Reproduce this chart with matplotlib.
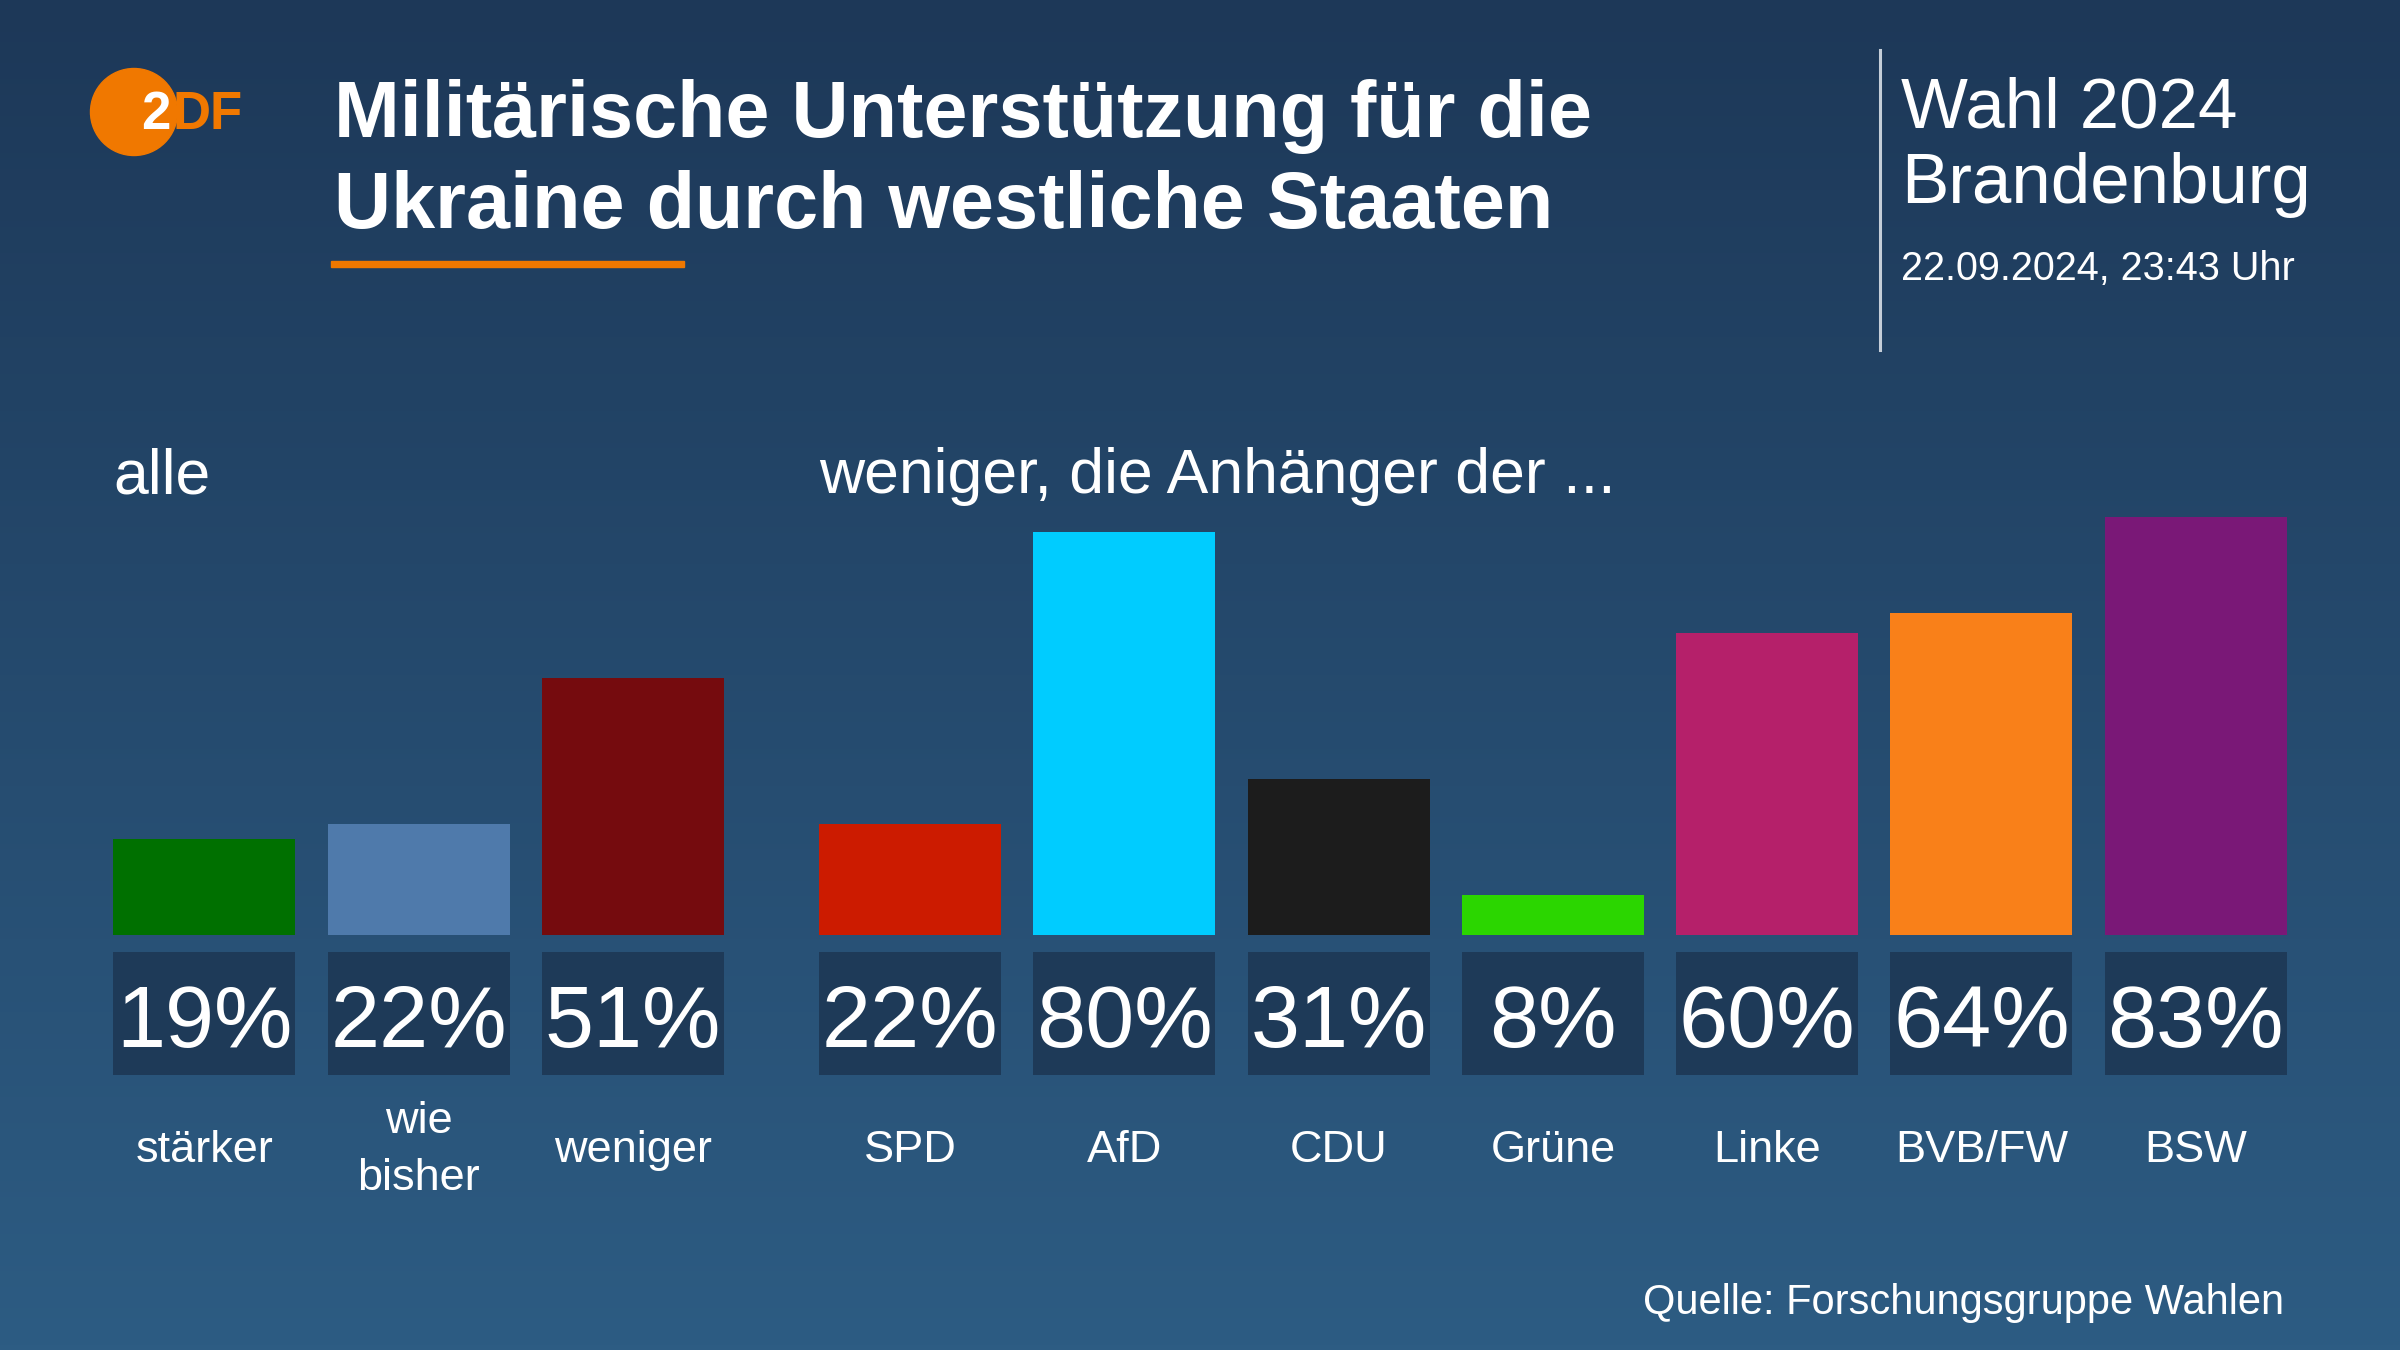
import numpy as np
import matplotlib
matplotlib.use("Agg")
import matplotlib.pyplot as plt
from matplotlib.patches import Circle, Rectangle
from matplotlib.colors import LinearSegmentedColormap

# ---------------- data ----------------
categories = ["stärker", "wie\nbisher", "weniger",
              "SPD", "AfD", "CDU", "Grüne", "Linke", "BVB/FW", "BSW"]
values = [19, 22, 51, 22, 80, 31, 8, 60, 64, 83]
bar_colors = ["#007000", "#4f7aab", "#750b0e",
              "#cc1b00", "#00ccff", "#1c1c1c", "#2bd600",
              "#b5206a", "#f98019", "#7a1877"]
group_sizes = [3, 7]
group_titles = ["alle", "weniger, die Anhänger der ..."]
title_lines = ["Militärische Unterstützung für die",
               "Ukraine durch westliche Staaten"]
header_lines = ["Wahl 2024", "Brandenburg"]
date_text = "22.09.2024, 23:43 Uhr"
source_text = "Quelle: Forschungsgruppe Wahlen"

# ---------------- layout ----------------
W, H = 2400, 1350
FONT = ["Liberation Sans", "DejaVu Sans"]
plt.rcParams["font.family"] = FONT

fig = plt.figure(figsize=(24, 13.5), dpi=100)

# background gradient
ax_bg = fig.add_axes([0, 0, 1, 1])
cmap = LinearSegmentedColormap.from_list("bg", ["#1d3858", "#2d5c83"])
grad = np.linspace(0, 1, 256).reshape(-1, 1)
ax_bg.imshow(grad, cmap=cmap, aspect="auto", extent=[0, 1, 0, 1],
             origin="upper")
ax_bg.set_xlim(0, 1)
ax_bg.set_ylim(0, 1)
ax_bg.axis("off")

# pixel overlay axes (y measured from top)
ax_px = fig.add_axes([0, 0, 1, 1], facecolor="none")
ax_px.set_xlim(0, W)
ax_px.set_ylim(H, 0)
ax_px.axis("off")

# bar axes: x in category units, y in percent
unit = 214.3          # px per category step
x0_px = 204.3         # px centre of first bar
base_px = 935.0       # px of bar baseline (from top)
ppu = 5.035           # px per percent
gap = 1.293           # offset step between the two groups

positions = []
pos = 0.0
for gi, n in enumerate(group_sizes):
    for k in range(n):
        positions.append(pos)
        pos += 1.0
    pos += gap - 1.0

ax = fig.add_axes([0, 0, 1, 1], facecolor="none")
ax.set_xlim(-x0_px / unit, (W - x0_px) / unit)
ax.set_ylim(-(H - base_px) / ppu, base_px / ppu)
ax.axis("off")

def py(px):
    """pixel row (from top) -> percent units"""
    return (base_px - px) / ppu

bar_w = 182.0 / unit
ax.bar(positions, values, width=bar_w, color=bar_colors, zorder=3)

# value boxes
box_top, box_bot = py(952), py(1075)
ax.bar(positions, [box_top - box_bot] * len(positions), bottom=box_bot,
       width=bar_w, color="#1e3a58", zorder=3)
for x, v in zip(positions, values):
    ax.text(x, py(1047), f"{v}%", ha="center", va="baseline",
            color="white", fontsize=63.5, zorder=4)

# category labels
for x, c in zip(positions, categories):
    lines = c.split("\n")
    if len(lines) == 1:
        ax.text(x, py(1162), c, ha="center", va="baseline",
                color="white", fontsize=32.5, zorder=4)
    else:
        ax.text(x, py(1133), lines[0], ha="center", va="baseline",
                color="white", fontsize=32.5, zorder=4)
        ax.text(x, py(1190), lines[1], ha="center", va="baseline",
                color="white", fontsize=32.5, zorder=4)

# group titles
starts = [positions[0], positions[group_sizes[0]]]
for s, t in zip(starts, group_titles):
    ax.text(s - bar_w / 2, py(493), t, ha="left", va="baseline",
            color="white", fontsize=45, zorder=4)

# ---------------- header ----------------
orange = "#f07800"
ax_px.add_patch(Circle((134, 112), 43.5, color=orange, zorder=5))
ax_px.text(141, 129, "2", color="white", fontsize=38, fontweight="bold",
           ha="left", va="baseline", zorder=6)
ax_px.text(172, 129, "DF", color=orange, fontsize=38, fontweight="bold",
           ha="left", va="baseline", zorder=6)

ax_px.text(334, 137, title_lines[0], color="white", fontsize=57,
           fontweight="bold", ha="left", va="baseline", zorder=5)
ax_px.text(334, 228, title_lines[1], color="white", fontsize=57,
           fontweight="bold", ha="left", va="baseline", zorder=5)
ax_px.add_patch(Rectangle((331, 261), 353, 6, color=orange, zorder=5))

ax_px.plot([1880, 1880], [50, 350], color="#c5ced8", lw=2.2, zorder=5)
ax_px.text(1901, 128, header_lines[0], color="white", fontsize=51,
           ha="left", va="baseline", zorder=5)
ax_px.text(1901, 203, header_lines[1], color="white", fontsize=51,
           ha="left", va="baseline", zorder=5)
ax_px.text(1901, 280, date_text, color="white", fontsize=28.5,
           ha="left", va="baseline", zorder=5)

ax_px.text(2284, 1314, source_text, color="white", fontsize=30,
           ha="right", va="baseline", zorder=5)

fig.savefig("out.png", dpi=100)
